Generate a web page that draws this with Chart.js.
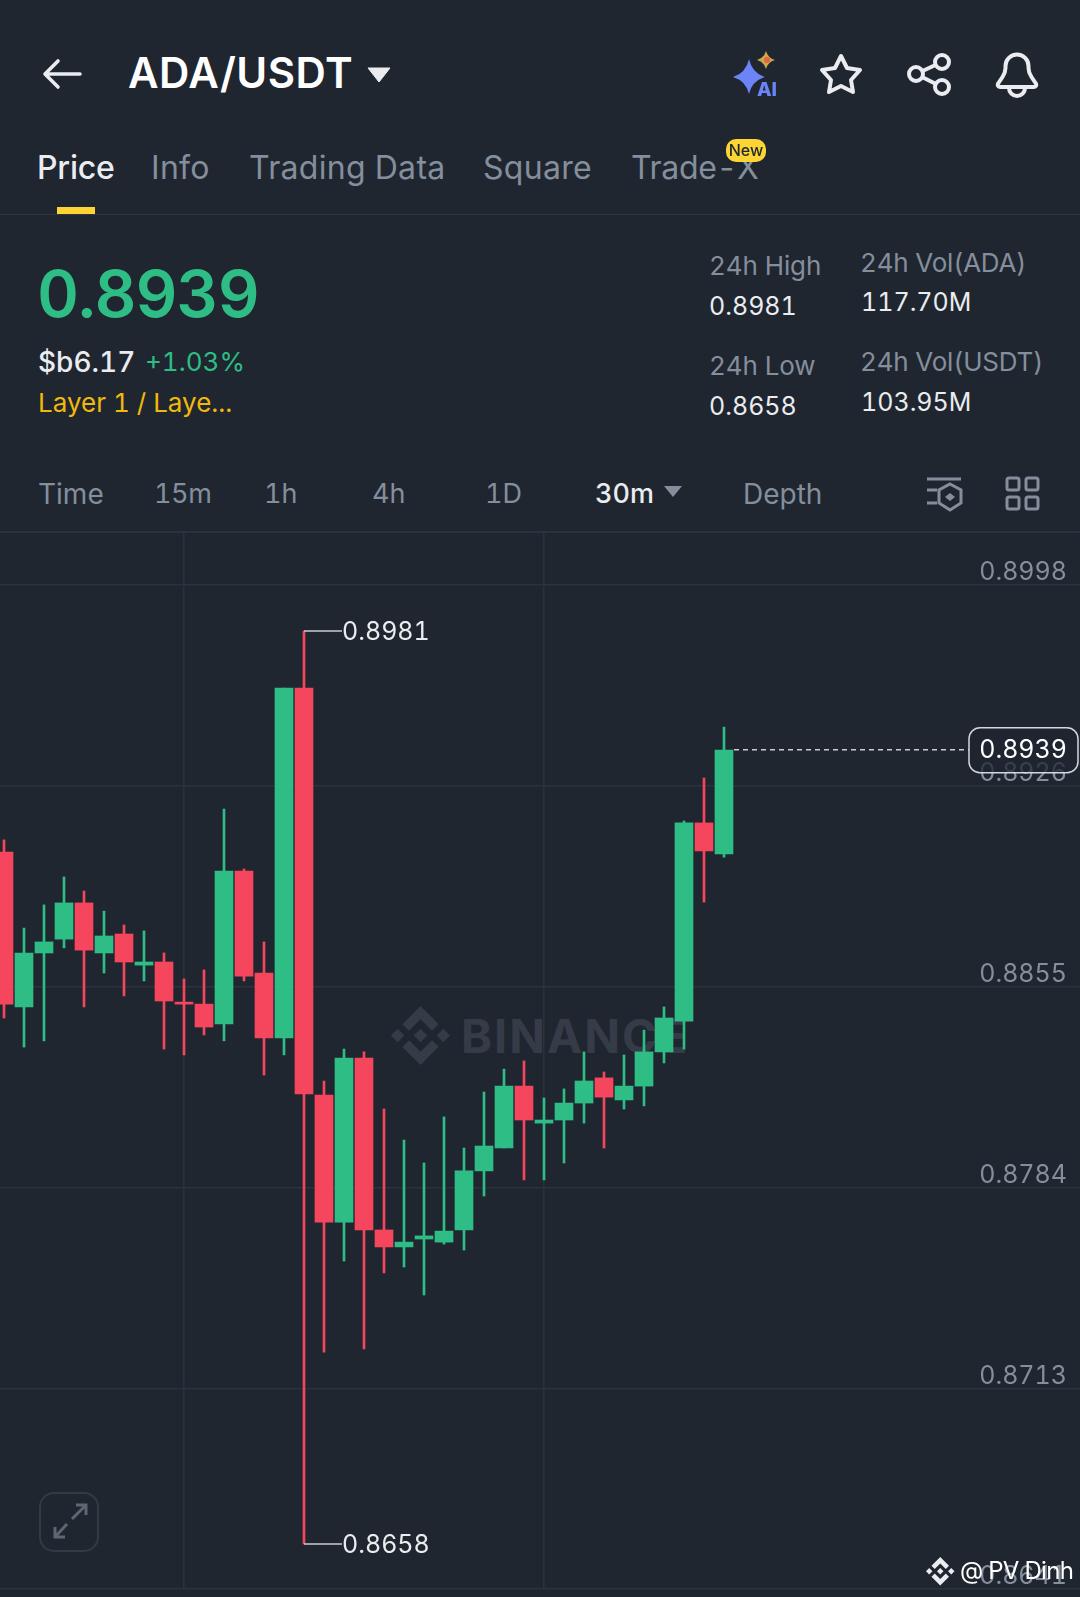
<!DOCTYPE html>
<html>
<head>
<meta charset="utf-8">
<title>ADA/USDT</title>
<script src="https://cdn.jsdelivr.net/npm/chart.js@4/dist/chart.umd.min.js"></script>
<style>
  html, body { margin: 0; padding: 0; background: #1f2630; }
  body { position: relative; width: 1080px; height: 1597px; overflow: hidden; font-family: Inter, "Noto Sans", sans-serif; font-variant-numeric: tabular-nums; }
  .t { position: absolute; white-space: nowrap; line-height: 1; z-index: 2; }
  .grey { color: #848e9c; }
  .white { color: #eaecef; }
  .tab { font-size: 32px; top: 152px; letter-spacing: .3px; }
  .stat { font-size: 26px; }
  .val { font-size: 25px; margin-top: 1px; }
  .iv { font-size: 28px; top: 480px; }
  .ivn { font-size: 27px; }
  #rule1 { position: absolute; left: 0; top: 214px; width: 1080px; height: 1px; background: #2f3641; }
  #rule2 { position: absolute; left: 0; top: 531px; width: 1080px; height: 2px; background: #2b323d; }
  #indicator { position: absolute; left: 57px; top: 207px; width: 38px; height: 7px; background: #fcd535; }
  #badge { position: absolute; left: 726px; top: 139px; width: 40px; height: 23px; border-radius: 10px; background: #fcd535; z-index: 3;
    color: #1f2630; font-size: 16px; font-weight: 500; line-height: 23px; text-align: center; }
  #wmLogo { position: absolute; left: 391px; top: 1006px; width: 59px; height: 59px; fill: #363c47; }
  #wmText { position: absolute; left: 461px; top: 1012px; font-size: 47px; line-height: 47px; font-weight: 700; letter-spacing: 2px; color: #363c47; }
  #priceChart { position: absolute; left: 0; top: 531px; z-index: 1; }
  #icons { position: absolute; left: 0; top: 0; z-index: 2; pointer-events: none; }
</style>
</head>
<body>
<div id="wmText">BINANCE</div>
<svg id="wmLogo" viewBox="0 0 126.61 126.61"><use href="#bnbLogo"/></svg>
<canvas id="priceChart" width="1080" height="1066" style="width:1080px;height:1066px"></canvas>

<div class="t" style="left:128px;top:52px;font-size:42px;font-weight:600;color:#fff;letter-spacing:.5px">ADA/USDT</div>

<div class="t tab white" style="left:37px;font-weight:500;letter-spacing:-.2px">Price</div>
<div class="t tab grey" style="left:151px">Info</div>
<div class="t tab grey" style="left:249px">Trading Data</div>
<div class="t tab grey" style="left:483px">Square</div>
<div class="t tab grey" style="left:631px;letter-spacing:-.3px">Trade-X</div>
<div id="badge">New</div>
<div id="indicator"></div>
<div id="rule1"></div>

<div class="t" style="left:37px;top:261px;font-size:65px;font-weight:600;color:#2ebd85;letter-spacing:-1px">0.8939</div>
<div class="t white" style="left:38px;top:348px;font-size:28px;font-weight:500">$b6.17</div>
<div class="t" style="left:145px;top:349px;font-size:26px;color:#2ebd85">+1.03%</div>
<div class="t" style="left:38px;top:390px;font-size:26px;color:#f0b90b">Layer 1 / Laye...</div>

<div class="t stat grey" style="left:709px;top:253px;letter-spacing:-.1px">24h High</div>
<div class="t val white" style="left:709px;top:293px">0.8981</div>
<div class="t stat grey" style="left:860px;top:250px;letter-spacing:-.2px">24h Vol(ADA)</div>
<div class="t val white" style="left:861px;top:289px">117.70M</div>
<div class="t stat grey" style="left:709px;top:353px;letter-spacing:-.1px">24h Low</div>
<div class="t val white" style="left:709px;top:393px">0.8658</div>
<div class="t stat grey" style="left:860px;top:349px;letter-spacing:-.2px">24h Vol(USDT)</div>
<div class="t val white" style="left:861px;top:389px">103.95M</div>

<div class="t iv grey" style="left:38px">Time</div>
<div class="t iv ivn grey" style="left:154px;letter-spacing:-.4px">15m</div>
<div class="t iv ivn grey" style="left:264px">1h</div>
<div class="t iv ivn grey" style="left:372px">4h</div>
<div class="t iv ivn grey" style="left:485px">1D</div>
<div class="t iv ivn white" style="left:595px;font-weight:500">30m</div>
<div class="t iv grey" style="left:743px">Depth</div>
<div id="rule2"></div>

<div class="t" style="left:960px;top:1559px;font-size:24px;color:#fff;letter-spacing:-.7px">@ PV Dinh</div>

<svg id="icons" width="1080" height="1597" viewBox="0 0 1080 1597">
  <defs>
    <g id="bnbLogo">
      <path d="m38.73 53.2 24.59-24.58 24.6 24.6 14.3-14.31L63.32 0 24.43 38.9z"/>
      <path d="m0 63.31 14.3-14.31 14.31 14.31-14.31 14.3z"/>
      <path d="m38.73 73.41 24.59 24.59 24.6-24.6 14.31 14.29-38.9 38.91-38.91-38.88z"/>
      <path d="m98 63.31 14.3-14.31 14.31 14.3-14.31 14.32z"/>
      <path d="m77.83 63.3-14.51-14.52-10.73 10.73-1.24 1.23-2.54 2.54 14.51 14.5 14.51-14.47z"/>
    </g>
  </defs>
  <g fill="none" stroke="#eaecef" stroke-width="3.6" stroke-linecap="round" stroke-linejoin="round">
    <path d="M80 74H46M58 61 45 74 58 87"/>
    <polygon points="841,56 847,68 860,70 851,80 853,92 841,86 829,92 831,80 822,70 835,68" stroke-width="4"/>
    <path d="M916 74 942 62M916 74 942 87" stroke-width="4"/>
    <circle cx="942" cy="62" r="7" stroke-width="4" fill="#1f2630"/>
    <circle cx="916" cy="74" r="7" stroke-width="4" fill="#1f2630"/>
    <circle cx="942" cy="87" r="7" stroke-width="4" fill="#1f2630"/>
    <path d="M1000 87h34c2 0 3-2 1.500-4l-4-6c-2-3-3-5-3-9v-2a11.500 11.500 0 0 0-23 0v2c0 4-1 6-3 9l-4 6c-1.500 2-.5 4 1.500 4z" stroke-width="4"/>
    <path d="M1009 88a8 8 0 0 0 16 0" stroke-width="4"/>
  </g>
  <polygon points="368,68 390,68 379,82" fill="#eaecef" stroke="#eaecef" stroke-width="1" stroke-linejoin="round"/>
  <polygon points="664,486 682,486 673,497" fill="#848e9c"/>
  <path d="M749 59Q752 73 765 77 752 81 749 94 746 81 733 77 746 73 749 59z" fill="#6b85f8"/>
  <path d="M766 51Q768 58 775 60 768 62 766 69 764 62 757 60 764 58 766 51z" fill="#c9a94f"/>
  <circle cx="767" cy="60" r="3" fill="#e8643c"/>
  <text x="757" y="96" font-family="Inter" font-size="19" font-weight="800" fill="#6b85f8">AI</text>
  <g fill="none" stroke="#848e9c" stroke-width="3">
    <path d="M927 479h34M927 490h10M927 503h10"/>
    <polygon points="950,484 961,490 961,503 950,510 939,503 939,490"/>
    <rect x="1007" y="478" width="12" height="12" rx="2"/>
    <rect x="1026" y="478" width="12" height="12" rx="2"/>
    <rect x="1007" y="497" width="12" height="12" rx="2"/>
    <rect x="1026" y="497" width="12" height="12" rx="2"/>
  </g>
  <polygon points="950,493 955,497 950,501 945,497" fill="#848e9c"/>
  <rect x="40" y="1493" width="58" height="58" rx="14" fill="none" stroke="#333a45" stroke-width="2"/>
  <path d="M72 1519 85 1506M76 1505h10v10M67 1524 55 1537M55 1527v10h10" fill="none" stroke="#5e6673" stroke-width="3"/>
  <use href="#bnbLogo" transform="translate(926 1557) scale(.225)" fill="#eaecef"/>
</svg>

<script>
const candleSlots = [0, 1, 2, 3, 4, 5, 6, 7, 8, 9, 10, 11, 12, 13, 14, 15, 16, 17, 18, 19, 20, 21, 22, 23, 24, 25, 26, 27, 28, 29, 30, 31, 32, 33, 34, 35, 36];
const candleOpen = [0.89028, 0.88480, 0.88671, 0.88720, 0.88848, 0.88671, 0.88738, 0.88628, 0.88639, 0.88497, 0.88490, 0.88420, 0.88961, 0.88600, 0.88370, 0.89608, 0.88168, 0.87719, 0.88299, 0.87691, 0.87631, 0.87659, 0.87648, 0.87691, 0.87900, 0.87981, 0.88200, 0.88069, 0.88080, 0.88140, 0.88229, 0.88151, 0.88200, 0.88321, 0.88430, 0.89131, 0.89021];
const candleHigh = [0.89071, 0.88759, 0.88841, 0.88940, 0.88890, 0.88819, 0.88770, 0.88749, 0.88671, 0.88579, 0.88611, 0.89180, 0.88968, 0.88710, 0.89608, 0.89810, 0.88218, 0.88331, 0.88321, 0.88119, 0.88009, 0.87928, 0.88091, 0.87981, 0.88179, 0.88260, 0.88289, 0.88158, 0.88190, 0.88321, 0.88250, 0.88310, 0.88398, 0.88480, 0.89138, 0.89290, 0.89470];
const candleLow = [0.88441, 0.88338, 0.88360, 0.88689, 0.88480, 0.88600, 0.88519, 0.88572, 0.88331, 0.88310, 0.88381, 0.88360, 0.88572, 0.88239, 0.88310, 0.86580, 0.87259, 0.87581, 0.87270, 0.87539, 0.87560, 0.87461, 0.87641, 0.87620, 0.87811, 0.87981, 0.87868, 0.87868, 0.87928, 0.88069, 0.87981, 0.88119, 0.88130, 0.88282, 0.88331, 0.88851, 0.89010];
const candleClose = [0.88490, 0.88671, 0.88710, 0.88848, 0.88681, 0.88731, 0.88639, 0.88639, 0.88501, 0.88490, 0.88409, 0.88961, 0.88589, 0.88370, 0.89608, 0.88172, 0.87719, 0.88299, 0.87691, 0.87631, 0.87648, 0.87670, 0.87687, 0.87900, 0.87988, 0.88200, 0.88080, 0.88080, 0.88140, 0.88218, 0.88161, 0.88200, 0.88321, 0.88441, 0.89131, 0.89032, 0.89389];

const yTickValues = [0.89973, 0.89262, 0.88551, 0.87840, 0.87129, 0.86421];
const yTickLabels = ["0.8998", "0.8926", "0.8855", "0.8784", "0.8713", "0.8641"];
const xGridSlots = [9, 27];

const lastPrice = 0.8939;
const lastPriceLabel = "0.8939";
const dayHighLabel = "0.8981";
const dayLowLabel = "0.8658";

const UP = "#2ebd85";
const DOWN = "#f6465d";
const GRID = "#2c323d";

const candleColors = candleSlots.map((s) => (candleClose[s] >= candleOpen[s] ? UP : DOWN));

const markers = {
  id: "markers",
  afterDatasetsDraw(chart) {
    const { ctx, scales: { x, y } } = chart;
    const font = "25px Inter";

    // high / low leaders
    const hiSlot = candleHigh.indexOf(Math.max(...candleHigh));
    const loSlot = candleLow.indexOf(Math.min(...candleLow));
    [[hiSlot, candleHigh[hiSlot], dayHighLabel], [loSlot, candleLow[loSlot], dayLowLabel]].forEach(([slot, price, label]) => {
      const px = x.getPixelForValue(slot);
      const py = y.getPixelForValue(price);
      ctx.save();
      ctx.strokeStyle = "#c9ccd1";
      ctx.lineWidth = 1.5;
      ctx.beginPath();
      ctx.moveTo(px, py);
      ctx.lineTo(px + 38, py);
      ctx.stroke();
      ctx.fillStyle = "#eaecef";
      ctx.font = font;
      ctx.textBaseline = "middle";
      ctx.fillText(label, px + 38, py + 1);
      ctx.restore();
    });

    // last price line and pill
    const lastSlot = candleSlots[candleSlots.length - 1];
    const ly = y.getPixelForValue(lastPrice);
    const lx = x.getPixelForValue(lastSlot) + 10;
    ctx.save();
    ctx.strokeStyle = "#c9ccd1";
    ctx.lineWidth = 1.5;
    ctx.setLineDash([5, 4]);
    ctx.beginPath();
    ctx.moveTo(lx, ly);
    ctx.lineTo(969, ly);
    ctx.stroke();
    ctx.setLineDash([]);
    ctx.beginPath();
    ctx.roundRect(969, ly - 22, 109, 45, 11);
    ctx.fillStyle = "rgba(31,38,48,0.75)";
    ctx.fill();
    ctx.strokeStyle = "#d5d8dc";
    ctx.stroke();
    ctx.fillStyle = "#ffffff";
    ctx.font = font;
    ctx.textAlign = "right";
    ctx.textBaseline = "middle";
    ctx.fillText(lastPriceLabel, 1067, ly + 1);
    ctx.restore();
  },
};

new Chart(document.getElementById("priceChart"), {
  type: "bar",
  data: {
    datasets: [
      {
        label: "Wick",
        data: candleSlots.map((s) => ({ x: s, y: [candleLow[s], candleHigh[s]] })),
        backgroundColor: candleColors,
        barThickness: 2,
        grouped: false,
        order: 2,
      },
      {
        label: "Body",
        data: candleSlots.map((s) => ({ x: s, y: [Math.min(candleOpen[s], candleClose[s]), Math.max(candleOpen[s], candleClose[s])] })),
        backgroundColor: candleColors,
        barThickness: 18,
        grouped: false,
        order: 1,
      },
    ],
  },
  options: {
    responsive: false,
    animation: false,
    events: [],
    layout: { padding: { bottom: 8 } },
    plugins: { legend: { display: false }, tooltip: { enabled: false } },
    scales: {
      x: {
        type: "linear",
        offset: false,
        min: -0.2,
        max: 53.8,
        afterBuildTicks: (scale) => { scale.ticks = xGridSlots.map((value) => ({ value })); },
        ticks: { display: false },
        grid: { color: GRID, lineWidth: 1.5, drawTicks: false, offset: false },
        border: { display: false },
      },
      y: {
        position: "right",
        min: 0.864208,
        max: 0.901638,
        afterBuildTicks: (scale) => { scale.ticks = yTickValues.map((value) => ({ value })); },
        // labels sit inside the plot, so no room has to be kept for them
        afterFit: (scale) => { scale.width = 0; scale.paddingTop = 0; scale.paddingBottom = 0; },
        ticks: {
          mirror: true,
          padding: -13,
          labelOffset: -12.5,
          autoSkip: false,
          color: "#848e9c",
          font: { family: "Inter", size: 25 },
          callback: (value, index) => yTickLabels[index],
        },
        grid: { color: GRID, lineWidth: 1.5, drawTicks: false },
        border: { display: false },
      },
    },
  },
  plugins: [markers],
});
</script>
</body>
</html>
